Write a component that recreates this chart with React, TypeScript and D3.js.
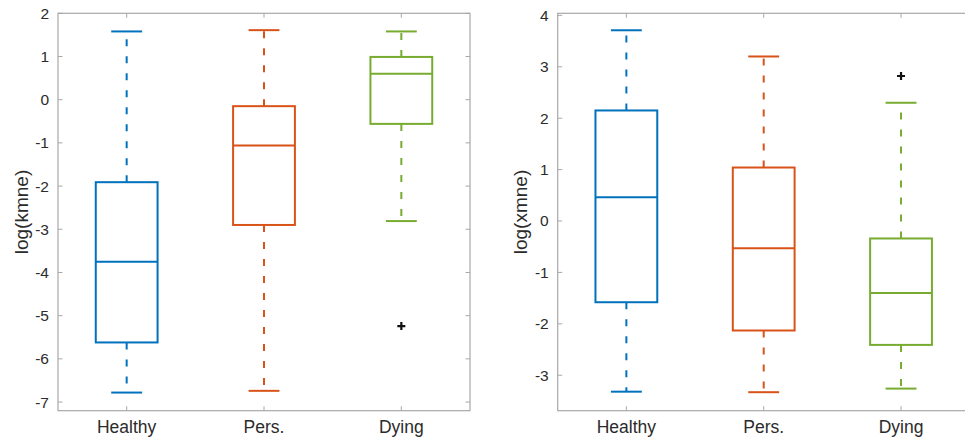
import React from "react";
import * as d3 from "d3";

// Group names along the x axis
const categories = ["Healthy", "Pers.", "Dying"];

// log(kmne) box statistics per group
const kmneLower = [-6.78, -6.74, -2.81];
const kmneQ1 = [-5.62, -2.9, -0.56];
const kmneMedian = [-3.75, -1.06, 0.6];
const kmneQ3 = [-1.91, -0.15, 0.99];
const kmneUpper = [1.58, 1.61, 1.58];
const kmneOutliers: number[][] = [[], [], [-5.24]];
const kmneTicks = [-7, -6, -5, -4, -3, -2, -1, 0, 1, 2];

// log(xmne) box statistics per group
const xmneLower = [-3.32, -3.33, -3.26];
const xmneQ1 = [-1.58, -2.13, -2.41];
const xmneMedian = [0.46, -0.53, -1.4];
const xmneQ3 = [2.15, 1.04, -0.34];
const xmneUpper = [3.71, 3.2, 2.3];
const xmneOutliers: number[][] = [[], [], [2.82]];
const xmneTicks = [-3, -2, -1, 0, 1, 2, 3, 4];

const colors = ["#0072BD", "#D95319", "#77AC30"];
const FONT = "'Liberation Sans', Arial, Helvetica, sans-serif";
const AXIS_COLOR = "#a8a8a8";
const TEXT_COLOR = "#2b2b2b";

type PanelProps = {
  left: number;
  top: number;
  width: number;
  height: number;
  domain: [number, number];
  ticks: number[];
  label: string;
  lower: number[];
  q1: number[];
  median: number[];
  q3: number[];
  upper: number[];
  outliers: number[][];
};

function BoxPanel(p: PanelProps) {
  const x = d3.scaleLinear().domain([0.5, 3.5]).range([p.left, p.left + p.width]);
  const y = d3.scaleLinear().domain(p.domain).range([p.top + p.height, p.top]);
  const boxHalf = x(0.225) - x(0);
  const capHalf = x(0.1125) - x(0);
  const tickLen = 4.5;
  const right = p.left + p.width;
  const bottom = p.top + p.height;

  return (
    <g>
      {/* axes frame */}
      <rect x={p.left} y={p.top} width={p.width} height={p.height} fill="#fff" stroke={AXIS_COLOR} strokeWidth={1.2} />
      {/* y ticks on both sides */}
      {p.ticks.map((t) => (
        <g key={"y" + t}>
          <line x1={p.left} x2={p.left + tickLen} y1={y(t)} y2={y(t)} stroke={AXIS_COLOR} strokeWidth={1} />
          <line x1={right} x2={right - tickLen} y1={y(t)} y2={y(t)} stroke={AXIS_COLOR} strokeWidth={1} />
          <text x={p.left - 9} y={y(t)} textAnchor="end" dominantBaseline="central" fontFamily={FONT} fontSize={15.5} fill={TEXT_COLOR}>
            {t}
          </text>
        </g>
      ))}
      {/* x ticks on top and bottom */}
      {categories.map((c, i) => (
        <g key={"x" + c}>
          <line x1={x(i + 1)} x2={x(i + 1)} y1={bottom} y2={bottom - tickLen} stroke={AXIS_COLOR} strokeWidth={1} />
          <line x1={x(i + 1)} x2={x(i + 1)} y1={p.top} y2={p.top + tickLen} stroke={AXIS_COLOR} strokeWidth={1} />
          <text x={x(i + 1)} y={bottom + 22} textAnchor="middle" fontFamily={FONT} fontSize={17.5} fill={TEXT_COLOR}>
            {c}
          </text>
        </g>
      ))}
      <text
        transform={`translate(${p.left - 37},${p.top + p.height / 2}) rotate(-90)`}
        textAnchor="middle"
        dominantBaseline="central"
        fontFamily={FONT}
        fontSize={19}
        fill={TEXT_COLOR}
      >
        {p.label}
      </text>
      {/* boxes */}
      {categories.map((c, i) => {
        const cx = x(i + 1);
        const col = colors[i];
        return (
          <g key={"b" + c} stroke={col} strokeWidth={2} fill="none">
            <path d={`M${cx},${y(p.q3[i])}V${y(p.upper[i])}`} strokeDasharray="7,10" />
            <path d={`M${cx},${y(p.q1[i])}V${y(p.lower[i])}`} strokeDasharray="7,10" />
            <line x1={cx - capHalf} x2={cx + capHalf} y1={y(p.upper[i])} y2={y(p.upper[i])} />
            <line x1={cx - capHalf} x2={cx + capHalf} y1={y(p.lower[i])} y2={y(p.lower[i])} />
            <rect x={cx - boxHalf} y={y(p.q3[i])} width={2 * boxHalf} height={y(p.q1[i]) - y(p.q3[i])} />
            <line x1={cx - boxHalf} x2={cx + boxHalf} y1={y(p.median[i])} y2={y(p.median[i])} />
            {p.outliers[i].map((o, k) => (
              <path
                key={k}
                d={`M${cx - 4},${y(o)}H${cx + 4}M${cx},${y(o) - 4}V${y(o) + 4}`}
                stroke="#111"
                strokeWidth={2.2}
              />
            ))}
          </g>
        );
      })}
    </g>
  );
}

export default function App() {
  return (
    <svg
      width={965}
      height={445}
      style={{ position: "absolute", left: 0, top: 0, background: "#fff" }}
    >
      <rect width={965} height={445} fill="#fff" />
      <BoxPanel
        left={58}
        top={13.3}
        width={412}
        height={397.4}
        domain={[-7.2, 2]}
        ticks={kmneTicks}
        label="log(kmne)"
        lower={kmneLower}
        q1={kmneQ1}
        median={kmneMedian}
        q3={kmneQ3}
        upper={kmneUpper}
        outliers={kmneOutliers}
      />
      <BoxPanel
        left={557.7}
        top={13.3}
        width={412}
        height={397.4}
        domain={[-3.69, 4.04]}
        ticks={xmneTicks}
        label="log(xmne)"
        lower={xmneLower}
        q1={xmneQ1}
        median={xmneMedian}
        q3={xmneQ3}
        upper={xmneUpper}
        outliers={xmneOutliers}
      />
    </svg>
  );
}
